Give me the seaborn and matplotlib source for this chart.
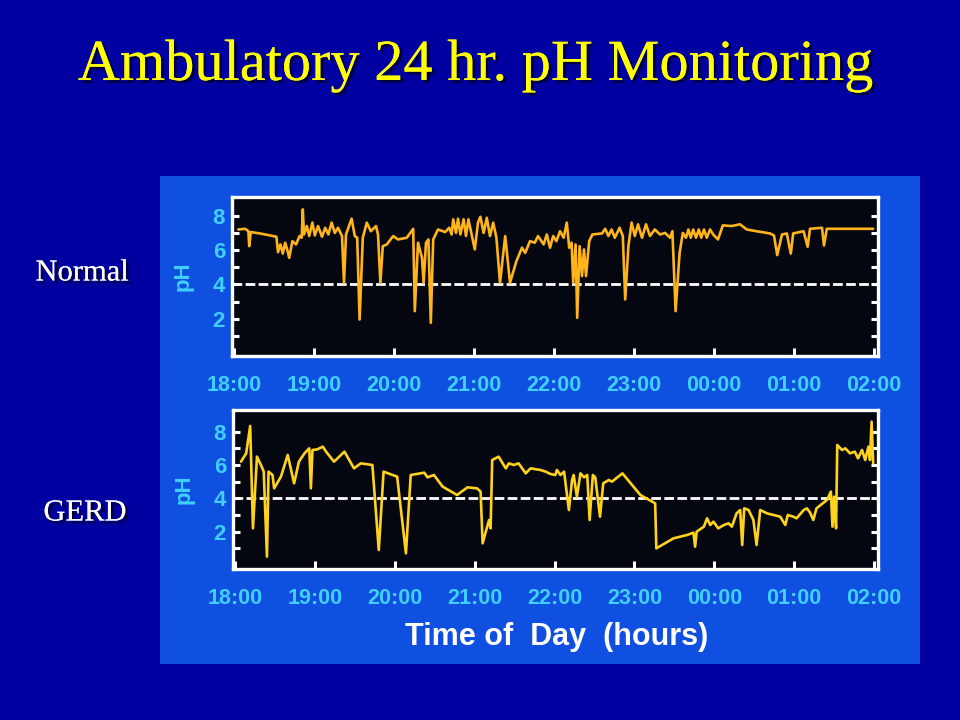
import seaborn as sns
import matplotlib.pyplot as plt
import matplotlib.patheffects as pe
from matplotlib.patches import Rectangle

# ---------------------------
# Data (hours after 18:00, pH)
# ---------------------------
normal_hours = [0.054, 0.14, 0.18, 0.19, 0.21, 0.325, 0.53, 0.55, 0.58, 0.61,
                0.64, 0.67, 0.69, 0.73, 0.775, 0.82, 0.846, 0.86, 0.875, 0.91,
                0.94, 0.98, 1.01, 1.05, 1.10, 1.14, 1.18, 1.22, 1.26, 1.30,
                1.35, 1.375, 1.40, 1.47, 1.51, 1.54, 1.57, 1.61, 1.66, 1.71,
                1.775, 1.80, 1.83, 1.86, 1.91, 1.99, 2.05, 2.16, 2.24, 2.26,
                2.30, 2.35, 2.37, 2.40, 2.43, 2.46, 2.49, 2.55, 2.64, 2.69,
                2.72, 2.74, 2.775, 2.80, 2.83, 2.87, 2.90, 2.93, 2.97, 3.01,
                3.05, 3.08, 3.12, 3.16, 3.20, 3.24, 3.28, 3.325, 3.39, 3.45,
                3.53, 3.60, 3.64, 3.70, 3.76, 3.80, 3.87, 3.91, 3.95, 3.99,
                4.03, 4.075, 4.12, 4.16, 4.19, 4.22, 4.24, 4.27, 4.29, 4.32,
                4.35, 4.375, 4.40, 4.44, 4.48, 4.60, 4.64, 4.68, 4.72, 4.76,
                4.82, 4.86, 4.89, 4.93, 4.97, 5.01, 5.05, 5.10, 5.15, 5.20,
                5.26, 5.325, 5.39, 5.45, 5.48, 5.52, 5.57, 5.61, 5.65, 5.68,
                5.71, 5.74, 5.775, 5.81, 5.84, 5.875, 5.91, 5.95, 5.99, 6.05,
                6.11, 6.22, 6.325, 6.41, 6.53, 6.70, 6.75, 6.79, 6.85, 6.91,
                6.96, 6.99, 7.12, 7.17, 7.20, 7.35, 7.375, 7.41, 7.99]
normal_ph = [7.20, 7.24, 7.10, 6.23, 7.05, 6.97, 6.78, 5.88, 6.33, 5.80,
             6.43, 5.94, 5.55, 6.52, 6.33, 6.82, 6.72, 8.37, 6.91, 7.40,
             6.82, 7.60, 6.85, 7.40, 6.78, 7.30, 6.91, 7.60, 7.00, 7.30,
             6.82, 4.10, 6.91, 7.83, 6.82, 6.72, 1.96, 6.72, 7.60, 7.10,
             7.40, 6.91, 4.10, 6.23, 6.33, 6.82, 6.62, 6.72, 7.24, 2.45,
             6.43, 5.55, 4.10, 6.43, 6.62, 1.77, 6.62, 7.20, 7.05, 7.30,
             6.91, 7.79, 7.00, 7.83, 6.91, 7.79, 6.82, 7.79, 6.91, 6.04,
             7.60, 7.94, 7.00, 7.88, 6.82, 7.60, 6.72, 4.10, 6.82, 4.10,
             5.36, 6.14, 5.84, 6.52, 6.43, 6.82, 6.33, 6.91, 6.14, 6.82,
             6.52, 7.10, 6.72, 7.60, 6.14, 6.43, 4.10, 6.33, 2.06, 6.23,
             4.49, 6.04, 4.49, 6.52, 6.91, 6.97, 7.24, 6.82, 7.20, 6.72,
             7.30, 6.82, 3.13, 6.23, 7.60, 6.82, 7.50, 6.72, 7.50, 6.82,
             7.20, 6.91, 7.00, 6.72, 7.10, 2.45, 5.84, 7.00, 6.72, 7.20,
             6.72, 7.20, 6.72, 7.20, 6.72, 7.20, 6.72, 7.20, 6.91, 6.62,
             7.44, 7.40, 7.50, 7.20, 7.10, 6.97, 6.85, 5.71, 6.91, 6.97,
             5.80, 6.97, 7.10, 6.20, 7.24, 7.30, 6.27, 7.24, 7.24]

gerd_hours = [0.075, 0.14, 0.19, 0.225, 0.275, 0.325, 0.36, 0.40, 0.42, 0.47,
              0.49, 0.575, 0.66, 0.74, 0.80, 0.87, 0.93, 0.95, 0.97, 1.03,
              1.10, 1.14, 1.24, 1.37, 1.49, 1.575, 1.72, 1.80, 1.86, 2.03,
              2.14, 2.20, 2.37, 2.41, 2.49, 2.60, 2.78, 2.91, 3.03, 3.075,
              3.10, 3.18, 3.20, 3.22, 3.30, 3.39, 3.43, 3.49, 3.55, 3.64,
              3.70, 3.825, 3.89, 3.95, 4.01, 4.03, 4.075, 4.12, 4.18, 4.22,
              4.24, 4.28, 4.325, 4.37, 4.41, 4.44, 4.48, 4.51, 4.57, 4.61,
              4.68, 4.72, 4.85, 5.075, 5.26, 5.275, 5.49, 5.66, 5.74, 5.76,
              5.78, 5.87, 5.91, 5.95, 5.99, 6.05, 6.12, 6.18, 6.22, 6.28,
              6.325, 6.35, 6.375, 6.43, 6.49, 6.53, 6.575, 6.66, 6.825, 6.89,
              6.92, 6.99, 7.03, 7.12, 7.16, 7.20, 7.24, 7.28, 7.41, 7.46,
              7.48, 7.50, 7.525, 7.54, 7.60, 7.64, 7.70, 7.76, 7.80, 7.85,
              7.89, 7.93, 7.95, 7.97, 7.99]
gerd_ph = [6.2, 6.7, 8.34, 2.2, 6.5, 6.0, 5.6, 0.5, 5.6, 5.4,
           4.6, 5.3, 6.6, 4.9, 6.2, 6.7, 7.0, 4.6, 6.9, 6.94,
           7.1, 6.8, 6.2, 6.8, 5.8, 6.1, 6.0, 0.9, 5.6, 5.3,
           0.7, 5.4, 5.54, 5.26, 5.4, 4.7, 4.2, 4.66, 4.6, 4.4,
           1.3, 2.7, 2.2, 6.3, 6.5, 5.8, 6.1, 6.0, 6.1, 5.5,
           5.8, 5.7, 5.6, 5.46, 5.4, 5.7, 5.4, 5.6, 3.3, 5.1,
           5.4, 4.1, 5.5, 5.26, 5.4, 2.7, 5.4, 5.26, 2.9, 4.9,
           5.1, 5.0, 5.5, 4.2, 3.7, 1.0, 1.6, 1.8, 1.94, 1.1,
           2.0, 2.3, 2.8, 2.4, 2.6, 2.2, 2.4, 2.5, 2.3, 3.1,
           3.3, 1.2, 3.4, 3.3, 2.7, 1.2, 3.3, 3.1, 2.9, 2.4,
           3.0, 2.9, 2.8, 3.3, 3.4, 3.14, 2.7, 3.4, 3.9, 4.4,
           2.3, 4.1, 2.2, 7.2, 6.9, 7.0, 6.7, 6.8, 6.4, 6.9,
           6.3, 7.1, 6.3, 8.6, 6.1]

hour_ticks = [0, 1, 2, 3, 4, 5, 6, 7, 8]
hour_labels = ["18:00", "19:00", "20:00", "21:00", "22:00",
               "23:00", "00:00", "01:00", "02:00"]
ph_ticks = [2, 4, 6, 8]
threshold = 4

# ---------------------------
# Styling
# ---------------------------
sns.set_style("ticks")
plt.rcParams["font.family"] = ["Liberation Sans", "DejaVu Sans"]

slide_bg = "#0000a0"
panel_bg = "#1050e0"
plot_bg = "#04070f"
cyan = "#40d0ff"

fig = plt.figure(figsize=(9.6, 7.2), dpi=100)
fig.patch.set_facecolor(slide_bg)
fig.add_artist(Rectangle((160 / 960, 56 / 720), 760 / 960, 488 / 720,
                         transform=fig.transFigure, facecolor=panel_bg,
                         edgecolor="none", zorder=0))

panels = [
    ([232 / 960, 364 / 720, 646 / 960, 159 / 720], normal_hours, normal_ph,
     "#ffb41c", (-0.16, 9.09)),
    ([233 / 960, 151 / 720, 645 / 960, 159 / 720], gerd_hours, gerd_ph,
     "#ffd21e", (-0.24, 9.3)),
]

for rect, hrs, ph, col, ylim in panels:
    ax = fig.add_axes(rect)
    ax.set_facecolor(plot_bg)
    sns.lineplot(x=hrs, y=ph, ax=ax, color=col, linewidth=1.9,
                 estimator=None, sort=False, zorder=3)
    ax.axhline(threshold, color="white", linewidth=2.0,
               linestyle=(0, (3.5, 1.2)), zorder=2)
    ax.set_xlim(-0.025, 8.05)
    ax.set_ylim(*ylim)
    for s in ax.spines.values():
        s.set_color("white")
        s.set_linewidth(2.4)
        s.set_visible(True)
    ax.set_xticks(hour_ticks)
    ax.set_xticklabels(hour_labels)
    ax.set_yticks(ph_ticks)
    ax.set_yticks([1, 3, 5, 7], minor=True)
    ax.tick_params(axis="x", direction="in", length=6, width=2.2,
                   colors="white", labelcolor=cyan, labelsize=15.5, pad=14)
    ax.tick_params(axis="y", which="both", direction="in", length=5,
                   width=2.2, colors="white", labelcolor=cyan, labelsize=16,
                   pad=5, left=True, right=True)
    for lab in ax.get_xticklabels() + ax.get_yticklabels():
        lab.set_fontweight("bold")
    ax.set_xlabel("")
    ax.set_ylabel("pH", color=cyan, fontsize=16, fontweight="bold",
                  labelpad=14)

fig.text(557 / 960, 1 - 637 / 720, "Time of  Day  (hours)", color="white",
         fontsize=22, fontweight="bold", ha="center", va="center")

shadow = [pe.withSimplePatchShadow(offset=(2, -2), shadow_rgbFace="black",
                                   alpha=0.6), pe.Normal()]
fig.text(476 / 960, 1 - 66 / 720, "Ambulatory 24 hr. pH Monitoring",
         color="#ffff00", fontsize=42, family="Liberation Serif",
         ha="center", va="center", path_effects=shadow)
fig.text(82 / 960, 1 - 273 / 720, "Normal", color="white", fontsize=22,
         family="Liberation Serif", ha="center", va="center",
         path_effects=shadow)
fig.text(85 / 960, 1 - 513 / 720, "GERD", color="white", fontsize=22,
         family="Liberation Serif", ha="center", va="center",
         path_effects=shadow)

fig.savefig("out.png", dpi=100, facecolor=slide_bg)
